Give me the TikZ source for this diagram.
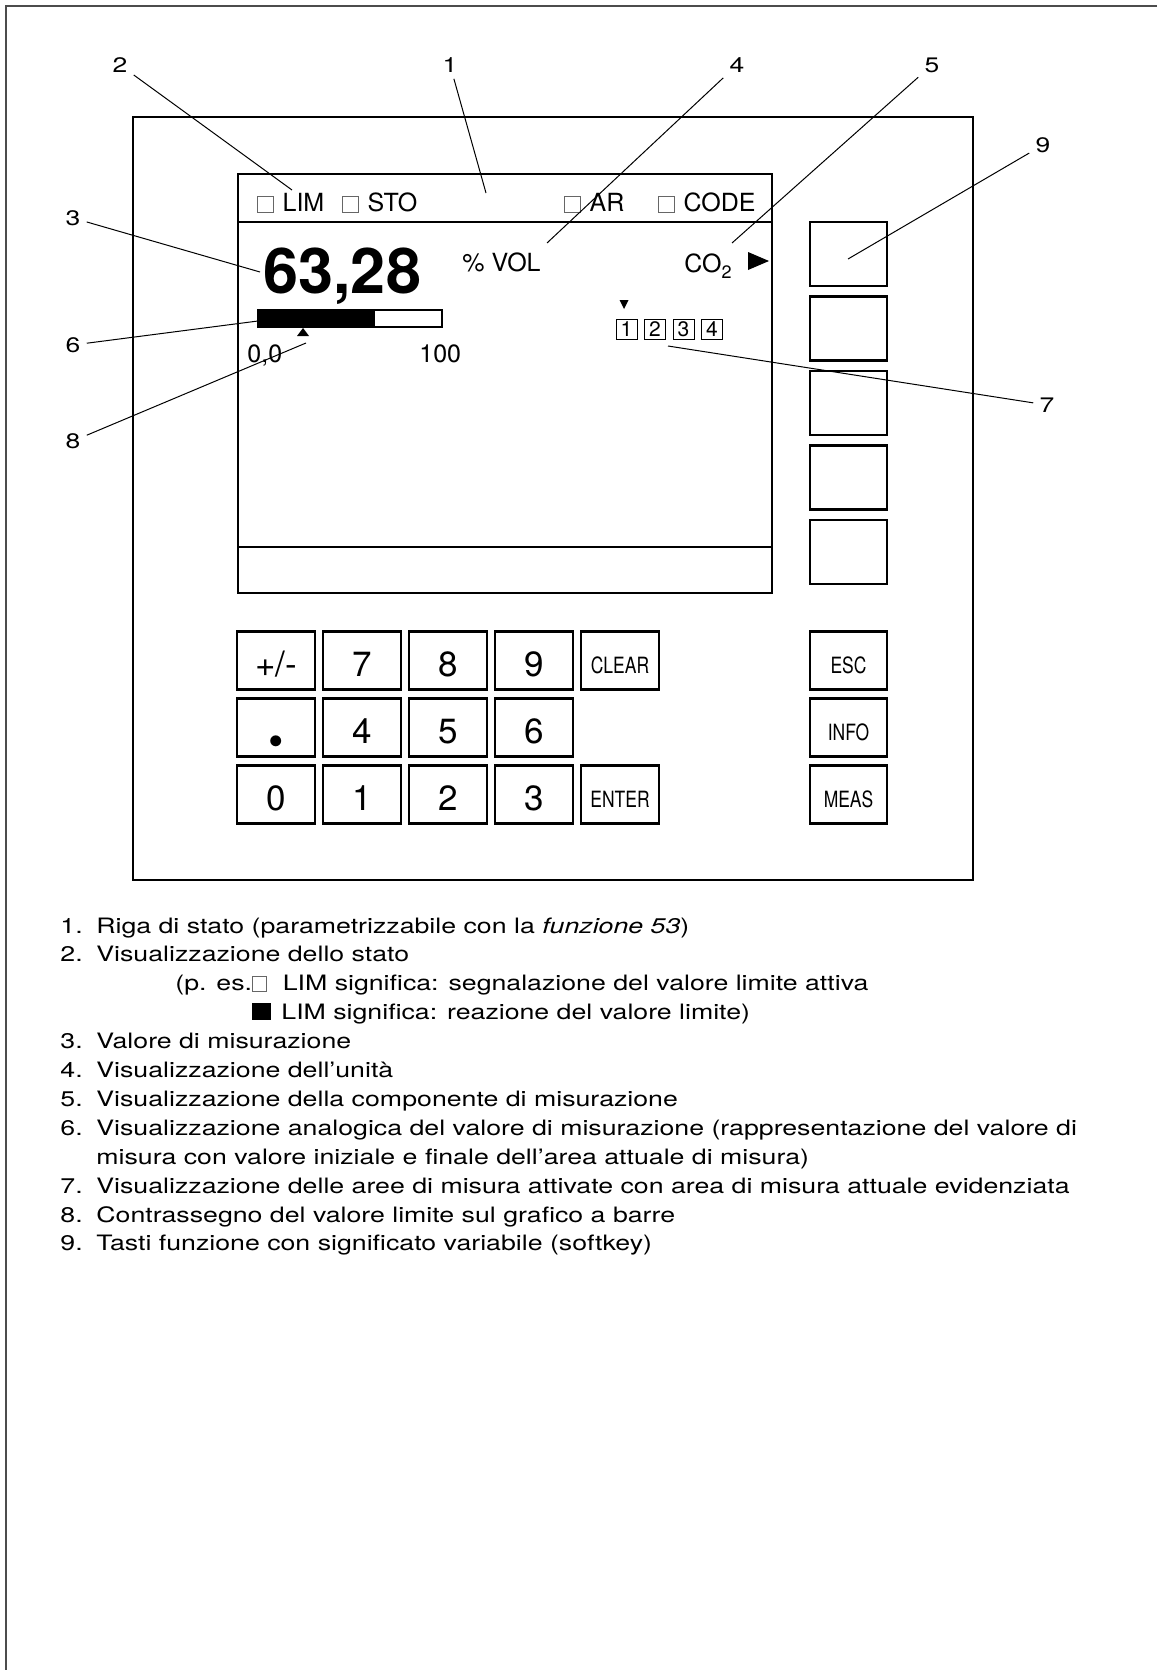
\documentclass[tikz,border=0pt]{standalone}
\usepackage{fontspec}
\setmainfont{TeX Gyre Heros}
\newfontfamily\condfont[FakeStretch=0.78]{TeX Gyre Heros}
\newfontfamily\widefont[FakeStretch=1.26]{TeX Gyre Heros}
\usetikzlibrary{positioning, calc}

\newcommand{\calloutfont}{\widefont\fontsize{10.5pt}{13pt}\selectfont}
\newcommand{\lcdfont}{\fontsize{12.5pt}{15pt}\selectfont}
\newcommand{\valuefont}{\fontsize{31.5pt}{36pt}\selectfont\bfseries}
\newcommand{\rangefont}{\fontsize{10.5pt}{12pt}\selectfont}
\newcommand{\keyfont}{\fontsize{17.5pt}{20pt}\selectfont}
\newcommand{\fkeyfont}{\condfont\fontsize{11.2pt}{13pt}\selectfont}
\newcommand{\legendfont}{\widefont\fontsize{10.6pt}{14pt}\selectfont}
\newcommand{\statbox}{{\color{black!60}\fboxsep=0pt\fboxrule=0.45pt\fbox{\rule{0pt}{7.2pt}\hspace{7.2pt}}}}
\newcommand{\legbox}{{\color{black!60}\fboxsep=0pt\fboxrule=0.5pt\fbox{\rule{0pt}{6.8pt}\hspace{6.2pt}}}}
\newcommand{\legfull}{\rule{9.5pt}{8.5pt}}
\newcommand{\legitem}[2]{\makebox[18pt][l]{#1}#2}

\begin{document}
\begin{tikzpicture}[x=0.5pt, y=-0.5pt]
  \tikzset{
    housing/.style={draw, line width=1.25pt},
    leader/.style={line width=0.5pt},
    num/.style={font=\calloutfont, inner sep=3pt},
    txt/.style={inner sep=0pt, anchor=base west},
    legendline/.style={txt, font=\legendfont},
    softkey/.style={
        rectangle, draw, line width=1.2pt,
        minimum width=38.5pt, minimum height=32pt,
      },
    keybox/.style={
        rectangle, draw, line width=1.15pt,
        minimum width=38.75pt, minimum height=29pt, inner sep=0pt,
        text height=16pt, text depth=0pt, font=\keyfont,
      },
    fkeybox/.style={keybox, text height=12.5pt, font=\fkeyfont},
    rangebox/.style={
        rectangle, draw, line width=0.45pt,
        minimum width=10.5pt, minimum height=10pt, inner sep=0pt,
        font=\rangefont,
      },
  }
  \useasboundingbox (0,0) rectangle (1157,1670);
  \draw[line width=0.6pt, black!70] (1157,6) -- (6,6) -- (6,1670);

  % housing and display
  \draw[housing] (133,117) rectangle (973,880);
  \draw[housing] (238,174) rectangle (772,593);
  \draw[housing] (238,222) -- (772,222);
  \draw[housing] (238,547) -- (772,547);

  % status line
  \node[txt, font=\lcdfont] (lim) at (257,211.5) {\statbox\hspace{4.5pt}LIM};
  \node[txt, font=\lcdfont] (sto) at (342,211.5) {\statbox\hspace{4.5pt}STO};
  \node[txt, font=\lcdfont] (ar) at (564,211.5) {\statbox\hspace{4.5pt}AR};
  \node[txt, font=\lcdfont] (code) at (658,211.5) {\statbox\hspace{4.5pt}CODE};

  % measured value
  \node[txt, font=\valuefont] (value) at (263,293) {63,28};
  \node[txt, font=\lcdfont] (unit) at (462,271) {\% VOL};
  \node[txt, font=\lcdfont] (comp) at (684,272) {CO\raisebox{-3pt}{\fontsize{9pt}{9pt}\selectfont 2}};
  \fill (748,252) -- (769,261) -- (748,270) -- cycle;

  % bar graph
  \draw[line width=0.7pt] (258,310) rectangle (442,327);
  \fill (258,310) rectangle (375,327);
  \fill (297,336) -- (303,328) -- (309,336) -- cycle;
  \node[txt, font=\lcdfont] (lo) at (247,362) {0,0};
  \node[txt, font=\lcdfont] (hi) at (419,362) {100};

  % ranges
  \fill (619.5,300) -- (628.5,300) -- (624,309) -- cycle;
  \foreach \i in {1,...,4}
    \node[rangebox] (r\i) at ({626.5+28.5*(\i-1)},329) {\i};

  % softkeys
  \foreach \i in {1,...,5}
    \node[softkey] (sk\i) at (848.5,{254+74.5*(\i-1)}) {};

  % keypad
  \node[keybox] (kpm) at (276,660.5) {+/-};
  \node[keybox] (k7) at (362,660.5) {7};
  \node[keybox] (k8) at (448,660.5) {8};
  \node[keybox] (k9) at (534,660.5) {9};
  \node[fkeybox] (kclear) at (620,660.5) {CLEAR};
  \node[keybox] (kdot) at (276,727.5) {\raisebox{-6.5pt}{\fontsize{22pt}{22pt}\selectfont\textbullet}};
  \node[keybox] (k4) at (362,727.5) {4};
  \node[keybox] (k5) at (448,727.5) {5};
  \node[keybox] (k6) at (534,727.5) {6};
  \node[keybox] (k0) at (276,794.5) {0};
  \node[keybox] (k1) at (362,794.5) {1};
  \node[keybox] (k2) at (448,794.5) {2};
  \node[keybox] (k3) at (534,794.5) {3};
  \node[fkeybox] (kenter) at (620,794.5) {ENTER};
  \node[fkeybox] (kesc) at (848.5,660.5) {ESC};
  \node[fkeybox] (kinfo) at (848.5,727.5) {INFO};
  \node[fkeybox] (kmeas) at (848.5,794.5) {MEAS};

  % callouts
  \foreach \i/\lx/\ly/\tx/\ty in {1/450/65/486/193, 2/120/65/292/190,
      3/73/218/260/272, 4/737/65/547/243, 5/932/65/732/243,
      6/73/345/258/321, 7/1047/405/668/346, 8/73/441/306/343,
      9/1043/145/848/259} {
    \node[num] (n\i) at (\lx,\ly) {\i};
    \coordinate (t\i) at (\tx,\ty);
    \draw[leader] (n\i) -- (t\i);
  }

  % legend
  \node[legendline] (item1) at (60,933) {\legitem{1.}{Riga di stato (parametrizzabile con la \textit{funzione 53})}};
  \node[legendline] (item2) at (60,961.9) {\legitem{2.}{Visualizzazione dello stato}};
  \node[legendline] (item2a) at (175,990.8) {\makebox[38.5pt][l]{(p. es.}\legbox\hspace{8pt}LIM significa: segnalazione del valore limite attiva};
  \node[legendline] (item2b) at (252,1019.7) {\legfull\hspace{5pt}LIM significa: reazione del valore limite)};
  \node[legendline] (item3) at (60,1048.6) {\legitem{3.}{Valore di misurazione}};
  \node[legendline] (item4) at (60,1077.5) {\legitem{4.}{Visualizzazione dell’unità}};
  \node[legendline] (item5) at (60,1106.4) {\legitem{5.}{Visualizzazione della componente di misurazione}};
  \node[legendline] (item6) at (60,1135.3) {\legitem{6.}{Visualizzazione analogica del valore di misurazione (rappresentazione del valore di}};
  \node[legendline] (item6b) at (96,1164.2) {misura con valore iniziale e finale dell’area attuale di misura)};
  \node[legendline] (item7) at (60,1193.1) {\legitem{7.}{Visualizzazione delle aree di misura attivate con area di misura attuale evidenziata}};
  \node[legendline] (item8) at (60,1222) {\legitem{8.}{Contrassegno del valore limite sul grafico a barre}};
  \node[legendline] (item9) at (60,1250.9) {\legitem{9.}{Tasti funzione con significato variabile (softkey)}};
\end{tikzpicture}
\end{document}
